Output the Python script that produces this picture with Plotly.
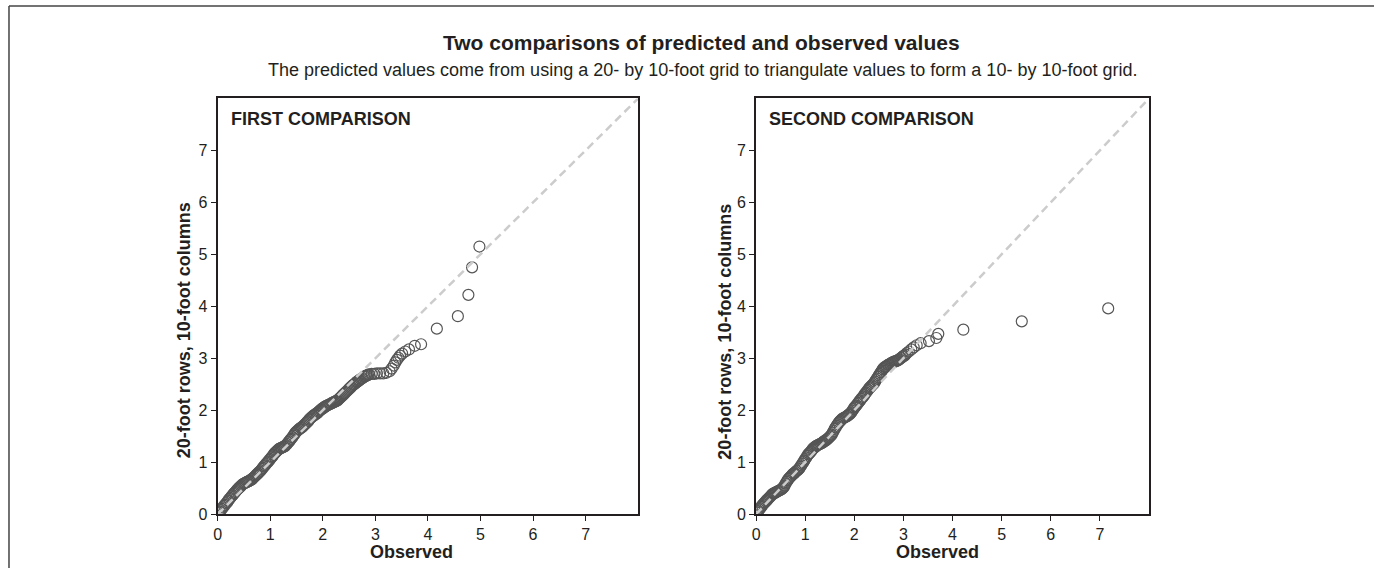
import plotly.graph_objects as go

# Quantile pairs: observed value vs. value predicted from the 20- by 10-foot grid
first_observed = [
    0.02, 0.04, 0.06, 0.08, 0.10, 0.12, 0.14, 0.16, 0.18, 0.20,
    0.22, 0.24, 0.26, 0.28, 0.30, 0.32, 0.34, 0.36, 0.38, 0.40,
    0.42, 0.44, 0.46, 0.48, 0.50, 0.52, 0.54, 0.56, 0.58, 0.60,
    0.62, 0.64, 0.66, 0.68, 0.70, 0.72, 0.74, 0.76, 0.78, 0.80,
    0.82, 0.84, 0.86, 0.88, 0.90, 0.92, 0.94, 0.96, 0.98, 1.00,
    1.02, 1.04, 1.06, 1.08, 1.10, 1.12, 1.14, 1.16, 1.18, 1.20,
    1.22, 1.24, 1.26, 1.28, 1.30, 1.32, 1.34, 1.36, 1.38, 1.40,
    1.42, 1.44, 1.46, 1.48, 1.50, 1.52, 1.54, 1.56, 1.58, 1.60,
    1.62, 1.64, 1.66, 1.68, 1.70, 1.72, 1.74, 1.76, 1.78, 1.80,
    1.82, 1.84, 1.86, 1.88, 1.90, 1.92, 1.94, 1.96, 1.98, 2.00,
    2.02, 2.04, 2.06, 2.08, 2.10, 2.12, 2.14, 2.16, 2.18, 2.20,
    2.22, 2.24, 2.26, 2.28, 2.30, 2.32, 2.34, 2.36, 2.38, 2.40,
    2.42, 2.44, 2.46, 2.48, 2.50, 2.52, 2.54, 2.56, 2.58, 2.60,
    2.62, 2.64, 2.66, 2.68, 2.70, 2.72, 2.74, 2.76, 2.78, 2.80,
    2.82, 2.84, 2.86, 2.88, 2.93, 2.98, 3.03, 3.09, 3.15, 3.21,
    3.27, 3.31, 3.35, 3.38, 3.41, 3.44, 3.47, 3.51, 3.57, 3.64,
    3.75, 3.87, 4.17, 4.57, 4.77, 4.84, 4.98,
]
first_predicted = [
    0.03, 0.05, 0.08, 0.10, 0.13, 0.16, 0.18, 0.21, 0.23, 0.26,
    0.29, 0.31, 0.34, 0.36, 0.39, 0.41, 0.43, 0.46, 0.48, 0.50,
    0.52, 0.54, 0.56, 0.58, 0.59, 0.60, 0.61, 0.62, 0.63, 0.64,
    0.65, 0.67, 0.68, 0.70, 0.72, 0.74, 0.76, 0.78, 0.80, 0.82,
    0.84, 0.87, 0.89, 0.92, 0.94, 0.97, 0.99, 1.01, 1.04, 1.06,
    1.09, 1.11, 1.14, 1.17, 1.19, 1.21, 1.23, 1.25, 1.26, 1.27,
    1.28, 1.29, 1.30, 1.31, 1.33, 1.35, 1.38, 1.40, 1.43, 1.45,
    1.48, 1.51, 1.54, 1.57, 1.59, 1.61, 1.63, 1.64, 1.66, 1.67,
    1.69, 1.71, 1.73, 1.75, 1.77, 1.79, 1.82, 1.84, 1.86, 1.88,
    1.89, 1.91, 1.92, 1.94, 1.95, 1.97, 1.99, 2.01, 2.02, 2.04,
    2.05, 2.07, 2.08, 2.09, 2.10, 2.11, 2.12, 2.13, 2.14, 2.15,
    2.16, 2.17, 2.18, 2.19, 2.21, 2.23, 2.25, 2.27, 2.29, 2.31,
    2.33, 2.35, 2.37, 2.39, 2.41, 2.43, 2.45, 2.47, 2.49, 2.50,
    2.52, 2.54, 2.55, 2.57, 2.58, 2.60, 2.61, 2.62, 2.64, 2.65,
    2.66, 2.67, 2.68, 2.69, 2.70, 2.70, 2.71, 2.71, 2.71, 2.72,
    2.75, 2.80, 2.86, 2.92, 2.97, 3.01, 3.05, 3.09, 3.13, 3.17,
    3.24, 3.27, 3.57, 3.81, 4.22, 4.75, 5.15,
]

second_observed = [
    0.02, 0.04, 0.06, 0.08, 0.10, 0.12, 0.14, 0.16, 0.18, 0.20,
    0.22, 0.24, 0.26, 0.28, 0.30, 0.32, 0.34, 0.36, 0.38, 0.40,
    0.42, 0.44, 0.46, 0.48, 0.50, 0.52, 0.54, 0.56, 0.58, 0.60,
    0.62, 0.64, 0.66, 0.68, 0.70, 0.72, 0.74, 0.76, 0.78, 0.80,
    0.82, 0.84, 0.86, 0.88, 0.90, 0.92, 0.94, 0.96, 0.98, 1.00,
    1.02, 1.04, 1.06, 1.08, 1.10, 1.12, 1.14, 1.16, 1.18, 1.20,
    1.22, 1.24, 1.26, 1.28, 1.30, 1.32, 1.34, 1.36, 1.38, 1.40,
    1.42, 1.44, 1.46, 1.48, 1.50, 1.52, 1.54, 1.56, 1.58, 1.60,
    1.62, 1.64, 1.66, 1.68, 1.70, 1.72, 1.74, 1.76, 1.78, 1.80,
    1.82, 1.84, 1.86, 1.88, 1.90, 1.92, 1.94, 1.96, 1.98, 2.00,
    2.02, 2.04, 2.06, 2.08, 2.10, 2.12, 2.14, 2.16, 2.18, 2.20,
    2.22, 2.24, 2.26, 2.28, 2.30, 2.32, 2.34, 2.36, 2.38, 2.40,
    2.42, 2.44, 2.46, 2.48, 2.50, 2.52, 2.54, 2.56, 2.58, 2.60,
    2.62, 2.64, 2.66, 2.68, 2.70, 2.72, 2.74, 2.76, 2.78, 2.80,
    2.82, 2.84, 2.86, 2.88, 2.90, 2.92, 2.94, 2.96, 2.98, 3.00,
    3.02, 3.04, 3.07, 3.11, 3.16, 3.21, 3.27, 3.35, 3.52, 3.67,
    3.71, 4.22, 5.41, 7.17,
]
second_predicted = [
    0.03, 0.06, 0.09, 0.11, 0.14, 0.16, 0.19, 0.21, 0.23, 0.25,
    0.27, 0.29, 0.31, 0.33, 0.35, 0.37, 0.39, 0.40, 0.41, 0.42,
    0.43, 0.44, 0.45, 0.46, 0.47, 0.48, 0.50, 0.52, 0.55, 0.59,
    0.62, 0.65, 0.68, 0.70, 0.72, 0.74, 0.76, 0.78, 0.79, 0.81,
    0.83, 0.84, 0.86, 0.88, 0.91, 0.94, 0.97, 1.00, 1.03, 1.06,
    1.09, 1.12, 1.15, 1.17, 1.19, 1.21, 1.24, 1.26, 1.28, 1.29,
    1.31, 1.32, 1.33, 1.34, 1.35, 1.36, 1.37, 1.38, 1.40, 1.41,
    1.42, 1.44, 1.45, 1.47, 1.49, 1.51, 1.53, 1.57, 1.60, 1.64,
    1.67, 1.70, 1.73, 1.76, 1.78, 1.80, 1.82, 1.84, 1.85, 1.86,
    1.87, 1.88, 1.89, 1.91, 1.92, 1.94, 1.96, 1.99, 2.02, 2.05,
    2.07, 2.09, 2.12, 2.14, 2.17, 2.19, 2.22, 2.24, 2.26, 2.29,
    2.32, 2.34, 2.37, 2.39, 2.42, 2.44, 2.46, 2.48, 2.50, 2.52,
    2.55, 2.58, 2.61, 2.64, 2.67, 2.70, 2.73, 2.76, 2.79, 2.81,
    2.83, 2.84, 2.85, 2.87, 2.88, 2.89, 2.90, 2.91, 2.92, 2.93,
    2.94, 2.94, 2.95, 2.96, 2.97, 2.98, 3.00, 3.01, 3.03, 3.04,
    3.05, 3.07, 3.10, 3.13, 3.17, 3.21, 3.25, 3.29, 3.33, 3.39,
    3.47, 3.55, 3.71, 3.96,
]

axis_ticks = [0, 1, 2, 3, 4, 5, 6, 7]
axis_range = [0, 8]
panel_titles = ["FIRST COMPARISON", "SECOND COMPARISON"]
x_title = "Observed"
y_title = "20-foot rows, 10-foot columns"
main_title = "Two comparisons of predicted and observed values"
subtitle = ("The predicted values come from using a 20- by 10-foot grid to triangulate "
            "values to form a 10- by 10-foot grid.")

W, H = 1374, 577
FONT = "Liberation Sans, Arial, Helvetica, sans-serif"
INK = "#231f20"
POINT = "#555555"
REF_LINE = "#cccccc"


def px(x):
    return x / W


def py(y):
    return 1 - y / H


fig = go.Figure()

panels = [
    (first_observed, first_predicted, "x", "y"),
    (second_observed, second_predicted, "x2", "y2"),
]
for obs, pred, xa, ya in panels:
    fig.add_trace(go.Scatter(
        x=obs, y=pred, xaxis=xa, yaxis=ya, mode="markers",
        marker=dict(symbol="circle-open", size=11, color=POINT,
                    line=dict(width=1.2, color=POINT)),
        showlegend=False,
    ))
    # one-to-one reference line, drawn over the points
    fig.add_trace(go.Scatter(
        x=axis_range, y=axis_range, xaxis=xa, yaxis=ya, mode="lines",
        line=dict(color=REF_LINE, width=2.5, dash="8px,5px"),
        hoverinfo="skip", showlegend=False,
    ))

axis_style = dict(
    range=axis_range, tickvals=axis_ticks, showgrid=False, zeroline=False,
    showline=True, mirror=True, linecolor=INK, linewidth=2,
    ticks="outside", ticklen=5, tickwidth=1, tickcolor=INK,
    tickfont=dict(family=FONT, size=16, color=INK), fixedrange=True,
)

y_dom = [py(522.3), py(100)]
fig.update_layout(
    width=W, height=H,
    margin=dict(l=0, r=0, t=0, b=0),
    paper_bgcolor="white", plot_bgcolor="white",
    font=dict(family=FONT, color=INK),
    xaxis=dict(domain=[px(214.3), px(636)], anchor="y", **axis_style),
    yaxis=dict(domain=y_dom, anchor="x", **axis_style),
    xaxis2=dict(domain=[px(754.3), px(1148.3)], anchor="y2", **axis_style),
    yaxis2=dict(domain=y_dom, anchor="x2", **axis_style),
)

annotations = [
    dict(text="<b>" + main_title + "</b>", x=px(700), y=py(43),
         font=dict(size=21, family=FONT, color=INK)),
    dict(text=subtitle, x=px(701), y=py(71),
         font=dict(size=18, family=FONT, color=INK)),
    dict(text="<b>" + panel_titles[0] + "</b>", x=px(226), y=py(121), xanchor="left",
         font=dict(size=18, family=FONT, color=INK)),
    dict(text="<b>" + panel_titles[1] + "</b>", x=px(765), y=py(121), xanchor="left",
         font=dict(size=18, family=FONT, color=INK)),
    dict(text="<b>" + x_title + "</b>", x=px(408.5), y=py(561),
         font=dict(size=18, family=FONT, color=INK)),
    dict(text="<b>" + x_title + "</b>", x=px(936), y=py(561),
         font=dict(size=18, family=FONT, color=INK)),
    dict(text="<b>" + y_title + "</b>", x=px(180), y=py(335), textangle=-90,
         font=dict(size=18, family=FONT, color=INK)),
    dict(text="<b>" + y_title + "</b>", x=px(723), y=py(337), textangle=-90,
         font=dict(size=18, family=FONT, color=INK)),
]
for a in annotations:
    a.setdefault("xanchor", "center")
    a.update(xref="paper", yref="paper", yanchor="middle", showarrow=False)
fig.update_layout(annotations=annotations)

# outer frame (top and left edges)
fig.add_shape(type="line", xref="paper", yref="paper",
              x0=px(5), y0=py(6), x1=1, y1=py(6), line=dict(color="#444444", width=1.5))
fig.add_shape(type="line", xref="paper", yref="paper",
              x0=px(5), y0=py(6), x1=px(5), y1=0, line=dict(color="#444444", width=1.5))

fig.write_html("out.html", config={"displayModeBar": False})
